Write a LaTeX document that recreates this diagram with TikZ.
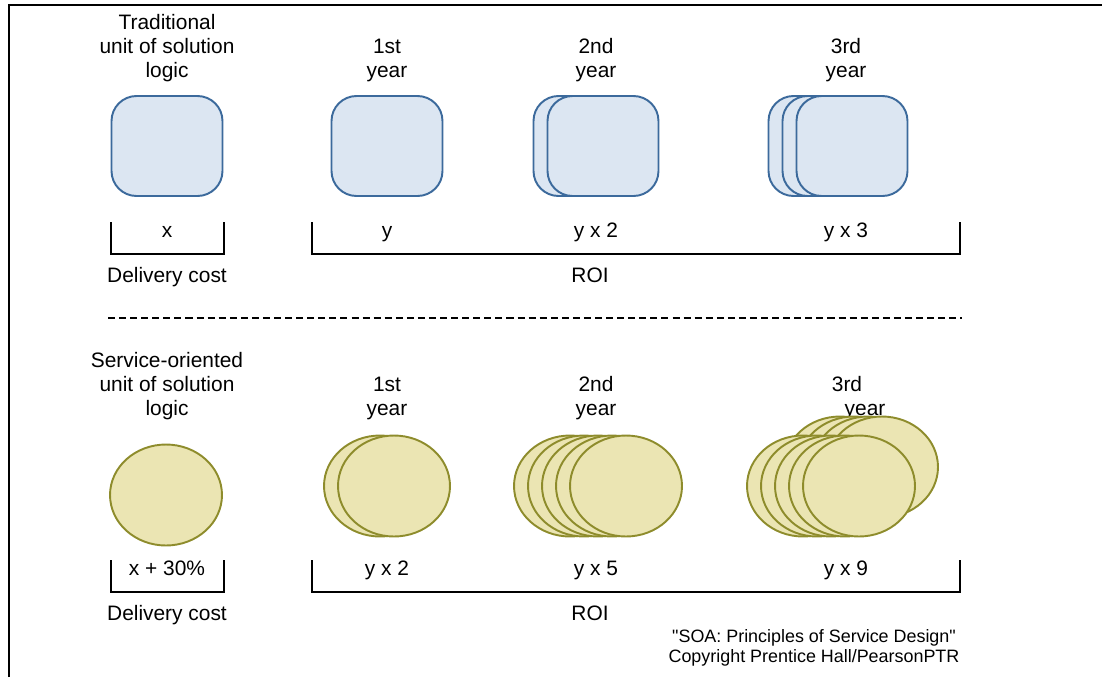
\documentclass[tikz,border=0pt]{standalone}
\usepackage{fontspec}
\setmainfont{Liberation Sans}
\newfontfamily\creditfont{Liberation Sans}[Ligatures=TeXOff]
\usetikzlibrary{shapes.geometric}

\definecolor{unitfill}{HTML}{DCE6F2}
\definecolor{unitline}{HTML}{3C6A9C}
\definecolor{svcfill}{HTML}{EBE5B3}
\definecolor{svcline}{HTML}{8E8C2C}

\begin{document}
\begin{tikzpicture}[
        x=0.02cm, y=-0.02cm,
        unit/.style={draw=unitline, fill=unitfill, line width=1.1pt, rectangle,
            rounded corners=0.5cm, minimum width=2.22cm, minimum height=2cm},
        svc/.style={draw=svcline, fill=svcfill, line width=1.1pt, ellipse,
            minimum width=2.24cm, minimum height=2.02cm},
        txt/.style={font=\fontsize{11.9}{13.6}\selectfont, inner sep=0pt,
            align=center, anchor=base},
        credit/.style={font=\creditfont\fontsize{10.2}{11.3}\selectfont,
            inner sep=0pt, align=center, anchor=base},
        bracket/.style={line width=0.6pt},
    ]
    \useasboundingbox (0,0) rectangle (1102,677);

    % frame (top and left only)
    \draw[line width=0.8pt] (9,677) -- (9,5) -- (1102,5);

    % 1. Traditional units
    % (base anchor sits on the last line of a multi-line node)
    \node[txt] (t_title) at (167,77) {Traditional\\unit of solution\\logic};
    \node[txt] (t_y1) at (387,77) {1st\\year};
    \node[txt] (t_y2) at (596,77) {2nd\\year};
    \node[txt] (t_y3) at (846,77) {3rd\\year};

    \node[unit] (t_unit) at (167,146) {};
    \node[unit] (t_box1) at (387,146) {};
    \foreach \i in {0,1}
        \node[unit] (t_box2\i) at (589+14*\i,146) {};
    \foreach \i in {0,1,2}
        \node[unit] (t_box3\i) at (824+14*\i,146) {};

    \draw[bracket] (111,222) |- (224,254) -- (224,222);
    \draw[bracket] (312,222) |- (960,254) -- (960,222);
    \node[txt] (t_cost) at (167,237) {x};
    \node[txt] (t_roi1) at (387,237) {y};
    \node[txt] (t_roi2) at (596,237) {y x 2};
    \node[txt] (t_roi3) at (846,237) {y x 3};
    \node[txt] (t_dc) at (167,282) {Delivery cost};
    \node[txt] (t_roi) at (590,282) {ROI};

    % separator
    \draw[line width=0.7pt, dash pattern=on 4pt off 2.3pt] (108,318) -- (962,318);

    % 2. Service-oriented units
    \node[txt] (s_title) at (167,415) {Service-oriented\\unit of solution\\logic};
    \node[txt] (s_y1) at (387,415) {1st\\year};
    \node[txt] (s_y2) at (596,415) {2nd\\year};
    \node[txt] (s_y3) at (847,391) {3rd};
    \node[txt] (s_y3b) at (865,415) {year};

    \node[svc] (s_unit) at (166,495) {};
    \foreach \i in {0,1}
        \node[svc] (s_ell1\i) at (380+14*\i,486) {};
    \foreach \i in {0,...,4}
        \node[svc] (s_ell2\i) at (570+14*\i,486) {};
    \foreach \i in {0,...,3}
        \node[svc] (s_back3\i) at (840+14*\i,467) {};
    \foreach \i in {0,...,4}
        \node[svc] (s_ell3\i) at (803+14*\i,486) {};

    \draw[bracket] (111,560) |- (224,592) -- (224,560);
    \draw[bracket] (312,560) |- (960,592) -- (960,560);
    \node[txt] (s_cost) at (167,575) {x + 30\%};
    \node[txt] (s_roi1) at (387,575) {y x 2};
    \node[txt] (s_roi2) at (596,575) {y x 5};
    \node[txt] (s_roi3) at (846,575) {y x 9};
    \node[txt] (s_dc) at (167,620) {Delivery cost};
    \node[txt] (s_roi) at (590,620) {ROI};

    % 3. Source
    \node[credit] (src) at (814,662)
        {"SOA: Principles of Service Design"\\Copyright Prentice Hall/PearsonPTR};

\end{tikzpicture}
\end{document}
